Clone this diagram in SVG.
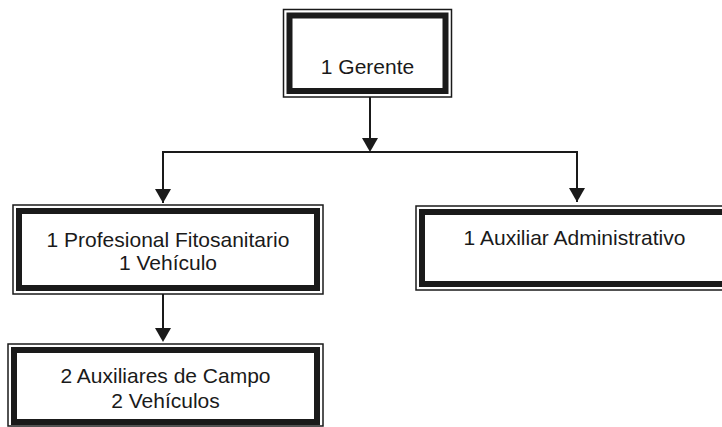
<svg xmlns="http://www.w3.org/2000/svg" width="722" height="427" viewBox="0 0 722 427">
  <style>
    .outer { fill: #ffffff; stroke: #1a1a1a; stroke-width: 1.5; }
    .band { fill: none; stroke: #1a1a1a; stroke-width: 6; }
    .inner { fill: none; stroke: #1a1a1a; stroke-width: 1; }
    .lbl { font-family: "Liberation Sans", Arial, sans-serif; font-size: 21px; fill: #1a1a1a; text-anchor: middle; }
    .conn { fill: none; stroke: #1a1a1a; stroke-width: 2; }
  </style>
  <defs>
    <marker id="arrow" markerUnits="userSpaceOnUse" markerWidth="16" markerHeight="14" viewBox="0 0 16 14" refX="8" refY="14" orient="auto-start-reverse">
      <path d="M0,0 L16,0 L8,14 Z" fill="#1a1a1a"/>
    </marker>
  </defs>
  <rect x="0" y="0" width="722" height="427" fill="#ffffff"/>

  <g id="connectors">
    <path class="conn" d="M370,97 V138"/>
    <path d="M362,138 L378,138 L370,152 Z" fill="#1a1a1a"/>
    <path class="conn" d="M163,203 V152 H577 V202"/>
    <path d="M155,189 L171,189 L163,203 Z" fill="#1a1a1a"/>
    <path d="M569,188 L585,188 L577,202 Z" fill="#1a1a1a"/>
    <path class="conn" d="M163,294 V328"/>
    <path d="M155,328 L171,328 L163,342 Z" fill="#1a1a1a"/>
  </g>

  <g id="gerente">
    <rect class="outer" x="283.5" y="9.5" width="168" height="87.5"/>
    <rect class="band" x="289.5" y="15.5" width="156" height="75.5"/>
    <text class="lbl" x="367.5" y="74">1 Gerente</text>
  </g>

  <g id="profesional">
    <rect class="outer" x="13" y="205" width="310" height="89"/>
    <rect class="band" x="19" y="211" width="298" height="77"/>
    <text class="lbl" x="168" y="247">1 Profesional Fitosanitario</text>
    <text class="lbl" x="168" y="270">1 Vehículo</text>
  </g>

  <g id="auxiliar-administrativo">
    <rect class="outer" x="416" y="206" width="320" height="84"/>
    <rect class="band" x="422" y="212" width="308" height="72"/>
    <text class="lbl" x="574.5" y="245">1 Auxiliar Administrativo</text>
  </g>

  <g id="auxiliares-campo">
    <rect class="outer" x="8" y="344" width="315" height="82"/>
    <rect class="band" x="14" y="350" width="303" height="72"/>
    <text class="lbl" x="165.5" y="383">2 Auxiliares de Campo</text>
    <text class="lbl" x="165.5" y="408">2 Vehículos</text>
  </g>
</svg>
